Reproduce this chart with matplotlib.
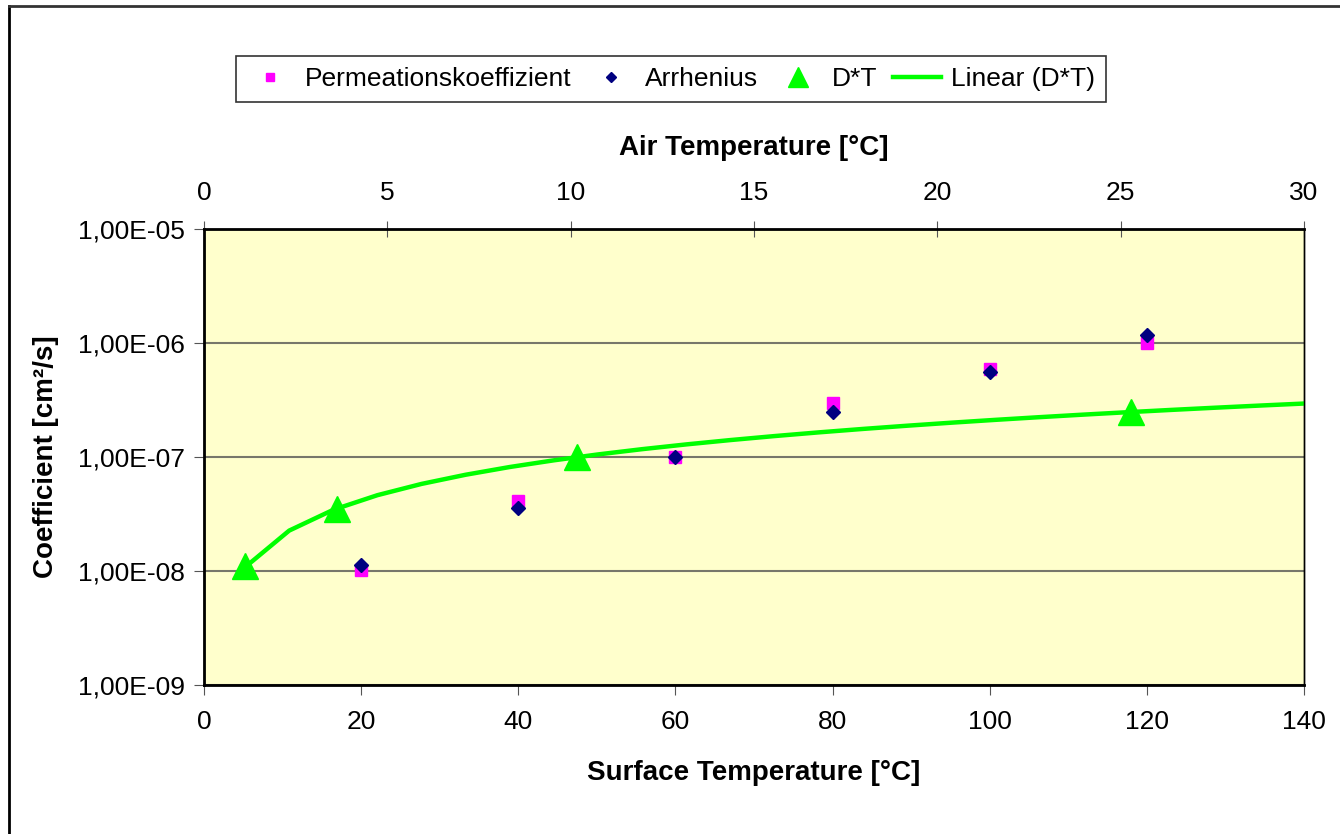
import numpy as np
import matplotlib.pyplot as plt
from matplotlib.ticker import FuncFormatter, NullLocator
from matplotlib.lines import Line2D

plt.rcParams['font.family'] = ['Liberation Sans', 'DejaVu Sans']

# surface temperature series (bottom axis)
surf_temp = [20, 40, 60, 80, 100, 120]
permeation = [1.03e-8, 4.1e-8, 1.0e-7, 3.0e-7, 5.9e-7, 1.0e-6]
arrhenius = [1.13e-8, 3.6e-8, 1.0e-7, 2.5e-7, 5.6e-7, 1.17e-6]

# air temperature series (top axis)
air_temp = [1.12, 3.63, 10.17, 25.28]
d_t = [1.1e-8, 3.5e-8, 1.0e-7, 2.48e-7]

fig = plt.figure(figsize=(13.4, 8.34), dpi=100)
ax = fig.add_axes([204/1340, 1-685/834, 1100/1340, 456/834])
ax.set_facecolor('#FFFFCC')

ax.set_yscale('log')
ax.set_ylim(1e-9, 1e-5)
ax.set_xlim(0, 140)
ax.set_xticks(range(0, 141, 20))
ax.set_yticks([1e-9, 1e-8, 1e-7, 1e-6, 1e-5])
ax.yaxis.set_minor_locator(NullLocator())
ax.yaxis.set_major_formatter(FuncFormatter(lambda v, p: f"{v:.2E}".replace('.', ',')))
ax.grid(axis='y', color='#77776a', lw=1.5)
ax.set_axisbelow(True)

ax.plot(surf_temp, permeation, 's', color='#FF00FF', ms=8, ls='none', label='Permeationskoeffizient')
ax.plot(surf_temp, arrhenius, 'D', color='#000080', ms=7, ls='none', label='Arrhenius')

ax2 = ax.twiny()
ax2.set_xlim(0, 30)
ax2.set_xticks(range(0, 31, 5))
ax2.plot(air_temp, d_t, '^', color='#00FF00', ms=19, ls='none', label='D*T')
coef = np.polyfit(air_temp, d_t, 1)
xs = np.linspace(min(air_temp), 30, 25)
ax2.plot(xs, np.polyval(coef, xs), color='#00FF00', lw=3.2, label='Linear (D*T)')

for a in (ax, ax2):
    for s in a.spines.values():
        s.set_color('black')
ax.spines['left'].set_linewidth(2)
ax.spines['bottom'].set_linewidth(2)
ax2.spines['top'].set_linewidth(2)
ax.spines['right'].set_linewidth(1)
ax2.spines['right'].set_linewidth(1)

ax.tick_params(axis='x', direction='out', length=7, color='#555555', labelsize=19, pad=11)
ax.tick_params(axis='y', direction='out', length=7, color='#555555', labelsize=19, pad=7)
ax2.tick_params(axis='x', direction='inout', length=12, color='#555555', labelsize=19, pad=11)

ax.set_xlabel('Surface Temperature [°C]', fontsize=20, fontweight='bold', labelpad=19)
ax2.set_xlabel('Air Temperature [°C]', fontsize=20, fontweight='bold', labelpad=19)
ax.set_ylabel('Coefficient [cm²/s]', fontsize=20, fontweight='bold', labelpad=13)

handles = ax.get_lines() + ax2.get_lines()
leg = fig.legend(handles=handles, labels=[h.get_label() for h in handles],
                 loc='center', bbox_to_anchor=(671/1340, 1-79/834), ncol=4,
                 fontsize=19, frameon=True, fancybox=False, edgecolor='black',
                 handlelength=1.8, handletextpad=0.4, columnspacing=0.6,
                 borderpad=0.4, markerscale=0.75)
leg.get_frame().set_linewidth(1.2)

# outer chart border
fig.add_artist(Line2D([9/1340, 9/1340], [0, 1-6/834], color='black', lw=2, transform=fig.transFigure))
fig.add_artist(Line2D([9/1340, 1], [1-6/834, 1-6/834], color='#333333', lw=2, transform=fig.transFigure))

fig.savefig('out.png', dpi=100)
